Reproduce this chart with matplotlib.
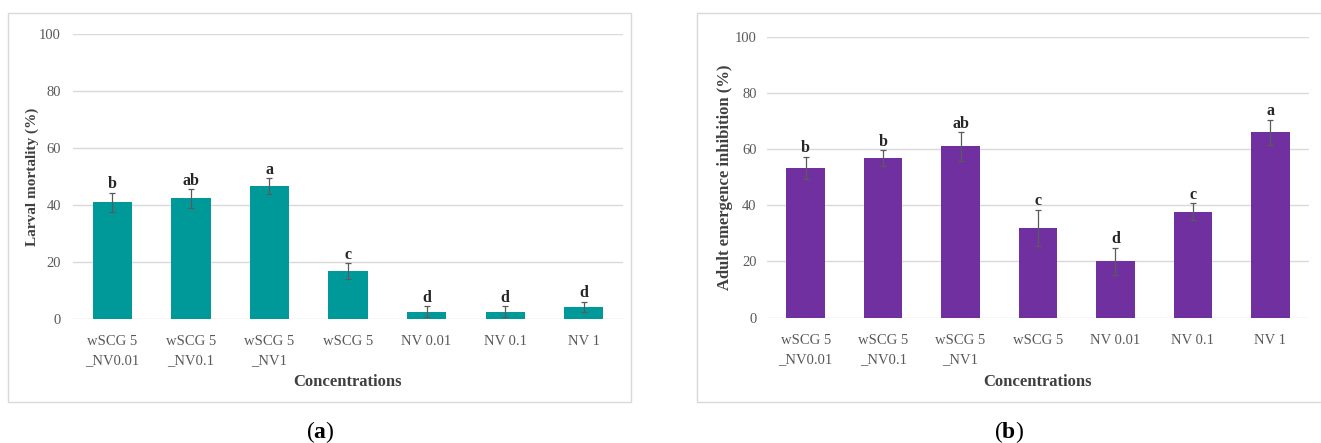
import numpy as np
import matplotlib.pyplot as plt
from matplotlib.patches import Rectangle

plt.rcParams['font.family'] = ['Liberation Serif', 'DejaVu Serif']
plt.rcParams['mathtext.fontset'] = 'custom'
plt.rcParams['mathtext.bf'] = 'Liberation Serif:bold'
plt.rcParams['mathtext.rm'] = 'Liberation Serif'

categories = ['wSCG 5\n_NV0.01', 'wSCG 5\n_NV0.1', 'wSCG 5\n_NV1', 'wSCG 5',
              'NV 0.01', 'NV 0.1', 'NV 1']

# (a) larval mortality
larval = [40.9, 42.3, 46.6, 16.7, 2.6, 2.6, 4.2]
larval_err = [3.3, 3.2, 2.8, 2.8, 1.8, 1.8, 1.8]
larval_letters = ['b', 'ab', 'a', 'c', 'd', 'd', 'd']

# (b) adult emergence inhibition
adult = [53.3, 56.7, 60.9, 31.9, 20.0, 37.7, 65.9]
adult_err = [3.9, 2.8, 5.0, 6.5, 4.9, 3.0, 4.4]
adult_letters = ['b', 'b', 'ab', 'c', 'd', 'c', 'a']

W, H = 1321, 443
fig = plt.figure(figsize=(W / 100, H / 100), dpi=100)

grid_col = '#d9d9d9'
tick_col = '#595959'
label_col = '#404040'


def px_box(x0, x1, y0, y1):
    # pixel box -> figure fraction [left, bottom, width, height]
    return [x0 / W, 1 - y1 / H, (x1 - x0) / W, (y1 - y0) / H]


def panel(box, vals, errs, letters, color, ylabel, ylabel_size, ypad):
    x0, x1, y0, y1 = box
    ax = fig.add_axes(px_box(x0, x1, y0, y1))
    x = np.arange(len(vals))
    ax.bar(x, vals, width=0.5, color=color, zorder=3)
    ax.errorbar(x, vals, yerr=errs, fmt='none', ecolor='#5a5a5a',
                elinewidth=0.9, capsize=2.5, capthick=0.9, zorder=4)
    for xi, v, e, s in zip(x, vals, errs, letters):
        ax.annotate(s, (xi, v + e), xytext=(0, 0.5), textcoords='offset points',
                    ha='center', va='bottom', fontsize=11.5, fontweight='bold',
                    color='#262626')
    ax.set_xlim(-0.5, len(vals) - 0.5)
    ax.set_ylim(0, 100)
    ax.set_yticks(range(0, 101, 20))
    ax.yaxis.grid(True, color=grid_col, linewidth=1, zorder=0)
    for sp in ax.spines.values():
        sp.set_visible(False)
    ax.set_xticks(x)
    ax.set_xticklabels(categories, fontsize=10.5, color=tick_col,
                       linespacing=1.6)
    ax.tick_params(axis='both', length=0, labelsize=10.5, colors=tick_col)
    ax.tick_params(axis='x', pad=11.5)
    ax.tick_params(axis='y', pad=ypad)
    ax.set_xlabel('Concentrations', fontsize=12, fontweight='bold',
                  color=label_col)
    ax.set_ylabel(ylabel, fontsize=ylabel_size, fontweight='bold',
                  color=label_col)
    w, h = x1 - x0, y1 - y0
    ax.xaxis.set_label_coords(0.5, -(374 - y1) / h)
    ax.yaxis.set_label_coords(-(x0 - (x0 - 34)) / w, 0.5)
    return ax


panel((73, 623, 34, 319), larval, larval_err, larval_letters,
      '#009999', 'Larval mortality (%)', 11, 8.6)
panel((767, 1309, 36.5, 317.7), adult, adult_err, adult_letters,
      '#7030a0', 'Adult emergence inhibition (%)', 12, 7.5)

# light frames around each chart
for x0, x1 in [(8, 631), (697, 1330)]:
    l, b, w, h = px_box(x0, x1, 13, 402)
    fig.add_artist(Rectangle((l, b), w, h, transform=fig.transFigure,
                             fill=False, edgecolor=grid_col, linewidth=1))

fig.text(320 / W, 1 - 432 / H, r'($\mathbf{a}$)', ha='center', va='center',
         fontsize=17, color='black')
fig.text(1009 / W, 1 - 432 / H, r'($\mathbf{b}$)', ha='center', va='center',
         fontsize=17, color='black')

fig.savefig('out.png', dpi=100, facecolor='white')
